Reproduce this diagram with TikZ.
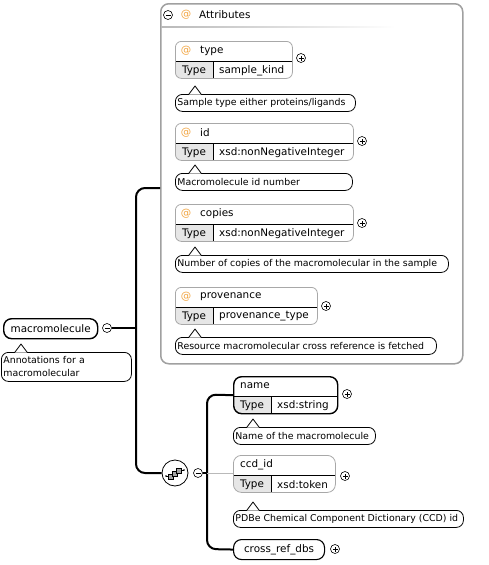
\documentclass[tikz,border=0pt]{standalone}
\usepackage{fontspec}
\setmainfont{DejaVu Sans}
\definecolor{boxgray}{HTML}{A8A8A8}
\definecolor{ctrgray}{HTML}{A0A0A0}
\definecolor{typegray}{HTML}{E6E6E6}
\definecolor{atorange}{HTML}{F2A541}
\newcommand{\lblfont}{\fontsize{10.4}{12}\selectfont}
\newcommand{\annfont}{\fontsize{9.4}{13}\selectfont}
% one-line annotation text of a fixed box width
\newcommand{\annline}[2]{\makebox[#1][l]{#2}}
% small caret on top of an annotation bubble
\newcommand{\annptr}[1]{%
  \fill[white] ([xshift=14pt,yshift=-0.7pt]#1.north west) -- ([xshift=20pt,yshift=8pt]#1.north west) -- ([xshift=26pt,yshift=-0.7pt]#1.north west) -- cycle;
  \draw[line width=0.8pt, line join=round] ([xshift=14pt]#1.north west) -- ([xshift=20pt,yshift=8pt]#1.north west) -- ([xshift=26pt]#1.north west);}
\begin{document}
\begin{tikzpicture}[x=1pt,y=-1pt,
  conn/.style={line width=2pt, rounded corners=9pt},
  thinconn/.style={line width=0.8pt, draw=gray!55},
  pm/.style={circle, draw, line width=0.6pt, minimum size=9pt, inner sep=0, fill=white},
  plus/.style={pm, path picture={
      \draw[line width=0.6pt] ([xshift=-2.5pt]path picture bounding box.center) -- ([xshift=2.5pt]path picture bounding box.center);
      \draw[line width=0.6pt] ([yshift=-2.5pt]path picture bounding box.center) -- ([yshift=2.5pt]path picture bounding box.center);}},
  minus/.style={pm, path picture={
      \draw[line width=0.6pt] ([xshift=-2.5pt]path picture bounding box.center) -- ([xshift=2.5pt]path picture bounding box.center);}},
  typed/.style={inner sep=0, anchor=north west, minimum height=37pt, fill=white, path picture={
      \fill[typegray, sharp corners] ([yshift=-20pt]path picture bounding box.north west) rectangle ([xshift=38pt]path picture bounding box.south west);
      \draw[black, line width=0.8pt, sharp corners] ([yshift=-20pt]path picture bounding box.north west) -- ([yshift=-20pt]path picture bounding box.north east);
      \draw[black, line width=0.8pt, sharp corners] ([xshift=38pt,yshift=-20pt]path picture bounding box.north west) -- ([xshift=38pt]path picture bounding box.south west);}},
  attr/.style={typed, draw=boxgray, line width=0.8pt, rounded corners=6pt},
  elem/.style={draw, line width=1.4pt, rounded corners=8pt, fill=white, inner sep=0, anchor=north west},
  lbl/.style={font=\lblfont, inner sep=0, anchor=west},
  atsign/.style={font=\lblfont, text=atorange, inner sep=0},
  annot/.style={draw, line width=0.8pt, rounded corners=7pt, fill=white, anchor=north west,
      inner xsep=2pt, inner ysep=0pt, minimum height=17pt, align=left, font=\annfont},
]
\useasboundingbox (0,0) rectangle (488,565);

% ---------- root element ----------
\node[elem, minimum width=94pt, minimum height=20pt] (mm) at (3,318) {};
\node[font=\lblfont, inner sep=0] (mm-txt) at (mm.center) {macromolecule};
\node[minus] (mm-minus) at (107,328) {};
\node[annot, text width=126pt, minimum height=29pt] (mm-ann) at (1,352) {Annotations for a\\macromolecular};
\annptr{mm-ann}

% ---------- attributes group ----------
\node[draw=ctrgray, line width=1.5pt, rounded corners=8pt, minimum width=302pt, minimum height=360pt,
      anchor=north west, inner sep=0] (attrs) at (160,3) {};
\node[minus] (attrs-minus) at (168,15) {};
\node[atsign] (attrs-at) at (186,15) {@};
\node[lbl] (attrs-title) at (199,15) {Attributes};
\shade[left color=gray!55, right color=white] (161,26) rectangle (395,27.5);

% type
\node[attr, minimum width=117pt] (type) at (175,41) {};
\node[atsign] (type-at) at ([xshift=11pt,yshift=-10pt]type.north west) {@};
\node[lbl] (type-name) at ([xshift=25pt,yshift=-10pt]type.north west) {type};
\node[font=\lblfont, inner sep=0] (type-t) at ([xshift=19pt,yshift=8.5pt]type.south west) {Type};
\node[lbl] (type-v) at ([xshift=44pt,yshift=8.5pt]type.south west) {sample\_kind};
\node[plus] (type-plus) at (301,58) {};
\node[annot] (type-ann) at (175,94) {\annline{176pt}{Sample type either proteins/ligands}};
\annptr{type-ann}

% id
\node[attr, minimum width=178pt] (id) at (175,123) {};
\node[atsign] (id-at) at ([xshift=11pt,yshift=-10pt]id.north west) {@};
\node[lbl] (id-name) at ([xshift=25pt,yshift=-10pt]id.north west) {id};
\node[font=\lblfont, inner sep=0] (id-t) at ([xshift=19pt,yshift=8.5pt]id.south west) {Type};
\node[lbl] (id-v) at ([xshift=44pt,yshift=8.5pt]id.south west) {xsd:nonNegativeInteger};
\node[plus] (id-plus) at (362,141) {};
\node[annot] (id-ann) at (175,173) {\annline{173pt}{Macromolecule id number}};
\annptr{id-ann}

% copies
\node[attr, minimum width=178pt] (copies) at (175,204) {};
\node[atsign] (copies-at) at ([xshift=11pt,yshift=-10pt]copies.north west) {@};
\node[lbl] (copies-name) at ([xshift=25pt,yshift=-10pt]copies.north west) {copies};
\node[font=\lblfont, inner sep=0] (copies-t) at ([xshift=19pt,yshift=8.5pt]copies.south west) {Type};
\node[lbl] (copies-v) at ([xshift=44pt,yshift=8.5pt]copies.south west) {xsd:nonNegativeInteger};
\node[plus] (copies-plus) at (362,223) {};
\node[annot] (copies-ann) at (175,255) {\annline{269pt}{Number of copies of the macromolecular in the sample}};
\annptr{copies-ann}

% provenance
\node[attr, minimum width=142pt] (prov) at (175,287) {};
\node[atsign] (prov-at) at ([xshift=11pt,yshift=-10pt]prov.north west) {@};
\node[lbl] (prov-name) at ([xshift=25pt,yshift=-10pt]prov.north west) {provenance};
\node[font=\lblfont, inner sep=0] (prov-t) at ([xshift=19pt,yshift=8.5pt]prov.south west) {Type};
\node[lbl] (prov-v) at ([xshift=44pt,yshift=8.5pt]prov.south west) {provenance\_type};
\node[plus] (prov-plus) at (326,306) {};
\node[annot] (prov-ann) at (175,337) {\annline{257pt}{Resource macromolecular cross reference is fetched}};
\annptr{prov-ann}

% ---------- sequence compositor ----------
\node[circle, draw, line width=0.8pt, minimum size=26pt, inner sep=0, fill=white] (seq) at (175,473) {};
\draw[line width=0.7pt] ([xshift=-9pt,yshift=-3pt]seq.center) -- ([xshift=-5pt,yshift=-3pt]seq.center);
\draw[line width=0.7pt] ([xshift=5pt,yshift=3pt]seq.center) -- ([xshift=9pt,yshift=3pt]seq.center);
\fill ([xshift=-9pt,yshift=-3pt]seq.center) circle (0.9pt);
\fill ([xshift=9pt,yshift=3pt]seq.center) circle (0.9pt);
\filldraw[fill=gray!70, line width=0.5pt] ([xshift=-7pt,yshift=-6pt]seq.center) rectangle ++(5pt,5pt);
\filldraw[fill=gray!70, line width=0.5pt] ([xshift=-3pt,yshift=-3pt]seq.center) rectangle ++(5pt,5pt);
\filldraw[fill=gray!70, line width=0.5pt] ([xshift=1pt,yshift=0pt]seq.center) rectangle ++(5pt,5pt);
\node[minus] (seq-minus) at (198,473) {};

% ---------- child elements ----------
\node[elem, typed, minimum width=104pt] (name) at (233,376) {};
\node[lbl] (name-name) at ([xshift=7pt,yshift=-10pt]name.north west) {name};
\node[font=\lblfont, inner sep=0] (name-t) at ([xshift=19pt,yshift=8.5pt]name.south west) {Type};
\node[lbl] (name-v) at ([xshift=44pt,yshift=8.5pt]name.south west) {xsd:string};
\node[plus] (name-plus) at (347,394) {};
\node[annot] (name-ann) at (233,427) {\annline{138pt}{Name of the macromolecule}};
\annptr{name-ann}

\node[elem, typed, draw=boxgray, line width=0.8pt, minimum width=102pt] (ccd) at (233,455) {};
\node[lbl] (ccd-name) at ([xshift=7pt,yshift=-10pt]ccd.north west) {ccd\_id};
\node[font=\lblfont, inner sep=0] (ccd-t) at ([xshift=19pt,yshift=8.5pt]ccd.south west) {Type};
\node[lbl] (ccd-v) at ([xshift=44pt,yshift=8.5pt]ccd.south west) {xsd:token};
\node[plus] (ccd-plus) at (345,476) {};
\node[annot] (ccd-ann) at (233,510) {\annline{226pt}{PDBe Chemical Component Dictionary (CCD) id}};
\annptr{ccd-ann}

\node[elem, line width=1.1pt, minimum width=91pt, minimum height=20pt] (xref) at (233,539) {};
\node[font=\lblfont, inner sep=0] (xref-txt) at (xref.center) {cross\_ref\_dbs};
\node[plus] (xref-plus) at (335,549) {};

% ---------- connectors ----------
\coordinate (bar-top) at (136,188);
\coordinate (bar-bot) at (136,473);
\coordinate (sb-top) at (207,394.5);
\coordinate (sb-bot) at (207,549);
\draw[conn] (bar-top -| attrs.west) -- (bar-top) -- (bar-bot) -- (seq.west);
\draw[line width=2pt] (mm-minus.east) -- (mm-minus -| bar-top);
\draw[conn] (name.west) -- (sb-top) -- (sb-bot) -- (xref.west);
\draw[line width=2pt] (seq-minus.east) -- (seq-minus -| sb-top);
\draw[thinconn] (seq-minus -| sb-top) -- (seq-minus -| ccd.west);
\end{tikzpicture}
\end{document}
